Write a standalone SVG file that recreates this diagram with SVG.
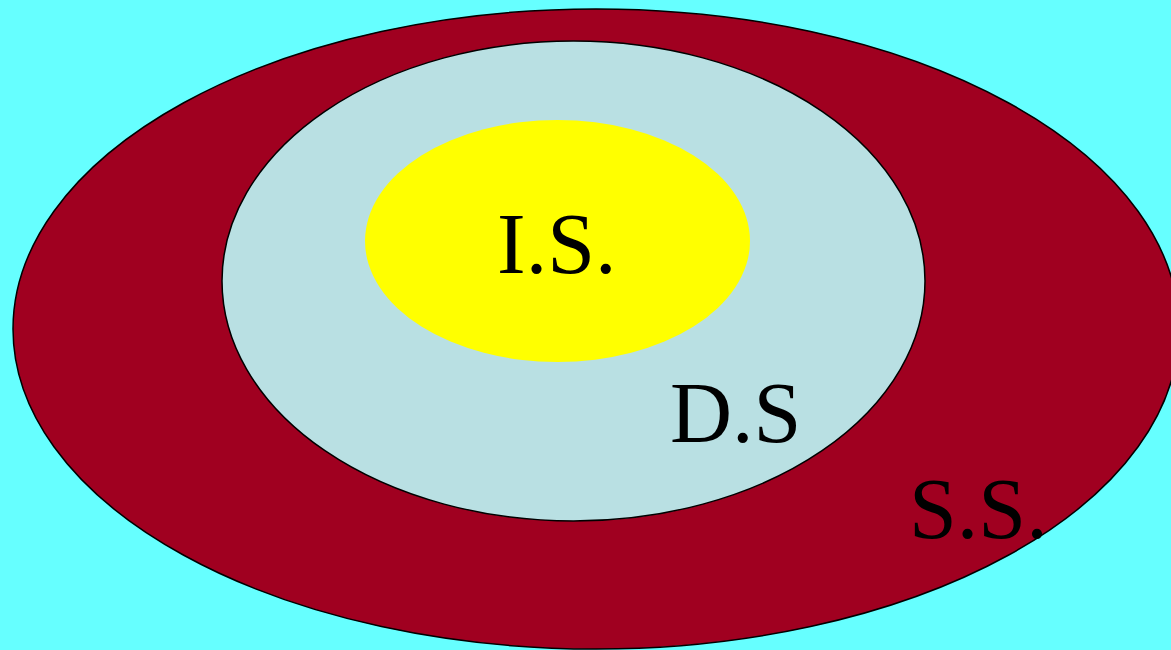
<svg xmlns="http://www.w3.org/2000/svg" width="1171" height="650" viewBox="0 0 1171 650">
<style>
.lbl{font-family:"Liberation Serif","Times New Roman",serif;font-size:86px;fill:#000}
.ring{stroke:#000;stroke-width:1.5}
</style>
<rect x="0" y="0" width="1171" height="650" fill="#66FFFF"/>
<g id="ss">
<ellipse class="ring" cx="596" cy="329" rx="583" ry="320" fill="#A00020"/>
<text class="lbl" x="909" y="538">S.S.</text>
</g>
<g id="ds">
<ellipse class="ring" cx="573.5" cy="281" rx="351.5" ry="240" fill="#B9E0E3"/>
<text class="lbl" x="670" y="442">D.S</text>
</g>
<g id="is">
<ellipse cx="557.5" cy="241" rx="192.5" ry="121" fill="#FFFF00"/>
<text class="lbl" x="497" y="273">I.S.</text>
</g>
<g id="connectors"/>
</svg>
